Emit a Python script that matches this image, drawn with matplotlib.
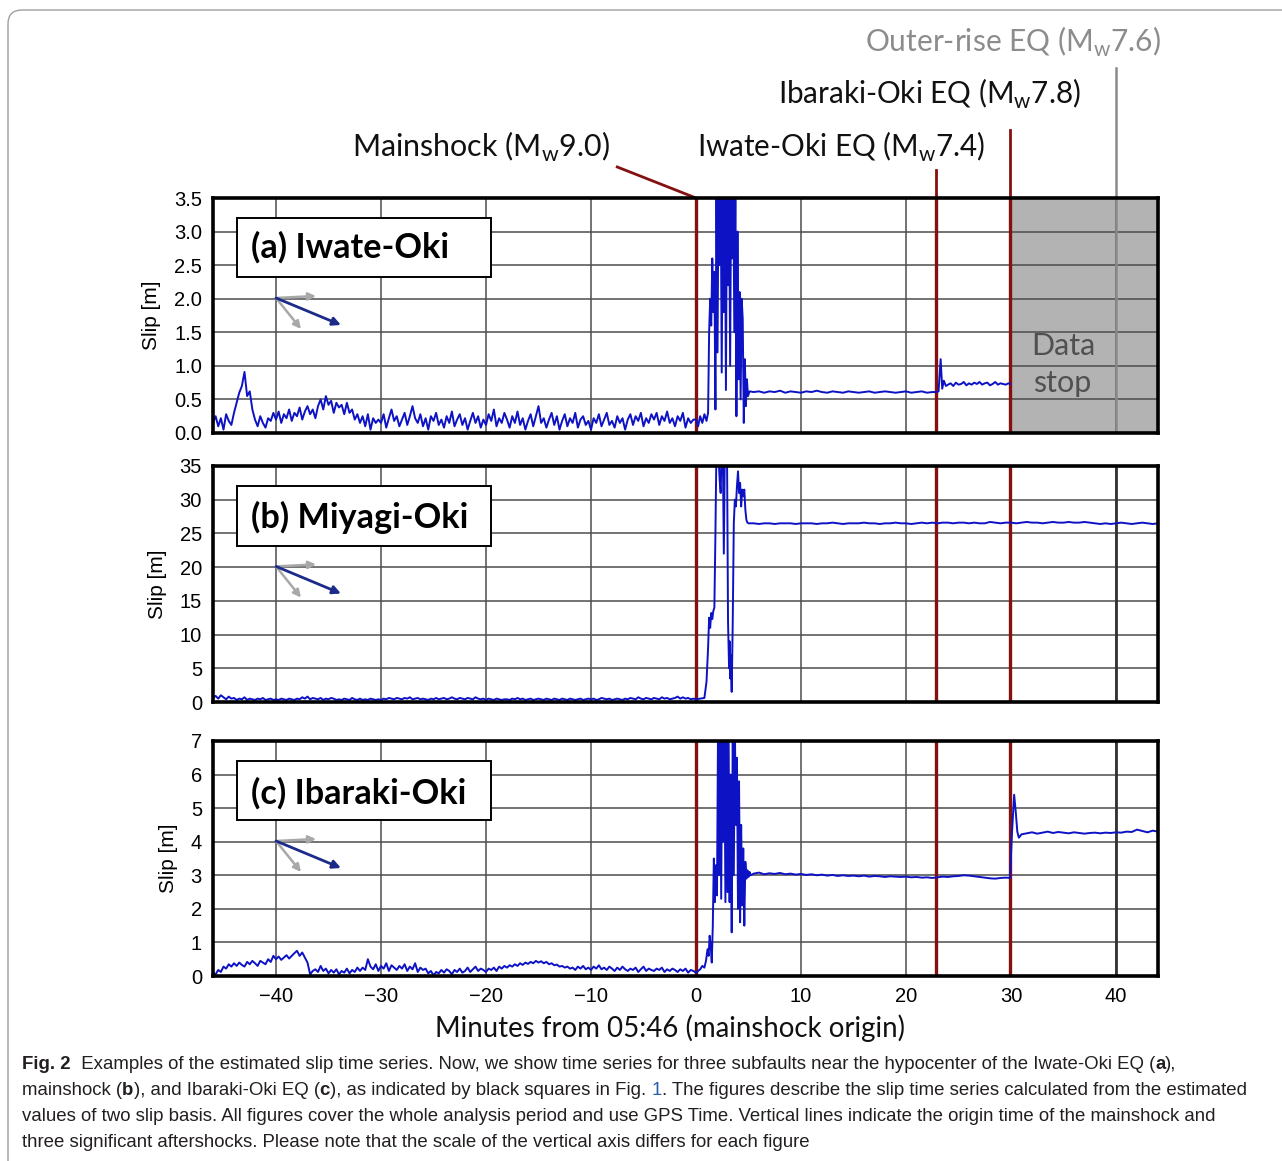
import numpy as np
import matplotlib
matplotlib.use("Agg")
import matplotlib.pyplot as plt
import matplotlib.transforms as mtransforms
from matplotlib.patches import Rectangle, FancyBboxPatch
from matplotlib.ticker import FormatStrFormatter

plt.rcParams['font.family'] = ['Liberation Sans', 'DejaVu Sans']

# ------------------------------------------------------------------ data
x_ticks = [-40, -30, -20, -10, 0, 10, 20, 30, 40]
event_labels = ["Mainshock (M$_\\mathregular{w}$9.0)", "Iwate-Oki EQ (M$_\\mathregular{w}$7.4)",
                "Ibaraki-Oki EQ (M$_\\mathregular{w}$7.8)", "Outer-rise EQ (M$_\\mathregular{w}$7.6)"]
event_times = [0.0, 22.9, 29.9, 40.0]
data_stop_time = 29.9
panel_titles = ["(a) Iwate-Oki", "(b) Miyagi-Oki", "(c) Ibaraki-Oki"]
y_ticks_a = [0.0, 0.5, 1.0, 1.5, 2.0, 2.5, 3.0, 3.5]
y_ticks_b = [0, 5, 10, 15, 20, 25, 30, 35]
y_ticks_c = [0, 1, 2, 3, 4, 5, 6, 7]

pre_start = -46.0
pre_step = 0.25

# (a) Iwate-Oki
slip_a_pre = [0.15,0.25,0.10,0.22,0.05,0.28,0.18,0.12, 0.30,0.45,0.60,0.70,0.91,0.55,0.62,0.35,
              0.20,0.10,0.25,0.15,0.08,0.22,0.18,0.30, 0.20,0.32,0.15,0.28,0.22,0.35,0.18,0.30,
              0.25,0.38,0.20,0.32,0.40,0.28,0.35,0.22, 0.40,0.50,0.35,0.55,0.42,0.48,0.30,0.45,
              0.38,0.42,0.28,0.45,0.30,0.35,0.20,0.28, 0.15,0.25,0.10,0.28,0.05,0.22,0.15,0.20,
              0.15,0.28,0.08,0.22,0.35,0.18,0.25,0.10, 0.20,0.30,0.12,0.25,0.40,0.22,0.15,0.28,
              0.10,0.22,0.05,0.25,0.18,0.30,0.12,0.20, 0.08,0.25,0.15,0.32,0.10,0.20,0.28,0.12,
              0.22,0.05,0.18,0.30,0.15,0.25,0.08,0.20, 0.12,0.28,0.18,0.35,0.10,0.22,0.15,0.30,
              0.20,0.08,0.25,0.15,0.32,0.12,0.22,0.05, 0.18,0.28,0.10,0.25,0.40,0.15,0.22,0.08,
              0.20,0.30,0.12,0.25,0.05,0.18,0.28,0.10, 0.22,0.15,0.30,0.08,0.20,0.25,0.12,0.18,
              0.05,0.22,0.15,0.28,0.10,0.20,0.30,0.12, 0.18,0.08,0.25,0.15,0.22,0.05,0.20,0.28,
              0.12,0.25,0.18,0.30,0.10,0.22,0.15,0.28, 0.20,0.30,0.12,0.25,0.18,0.32,0.15,0.22,
              0.10,0.25,0.18,0.30,0.08,0.22,0.15,0.20]
time_a_co = [0.0,0.2,0.4,0.6,0.8,1.0,1.15,1.25,1.35,1.45,1.55,1.65,1.75,1.85,1.95,2.05,2.15,2.25,
             2.35,2.45,2.55,2.65,2.75,2.85,2.95,3.05,3.15,3.25,3.35,3.45,3.55,3.65,3.75,3.85,3.95,
             4.05,4.15,4.25,4.35,4.45,4.55,4.65,4.75,4.85,4.95,5.1]
slip_a_co = [0.20,0.10,0.25,0.15,0.28,0.18,0.30,1.50,2.00,1.60,2.60,1.80,2.40,0.35,3.80,1.20,3.80,2.50,
             3.80,0.90,3.80,1.80,3.80,0.64,3.80,2.20,3.80,1.00,3.80,2.60,3.80,1.50,3.80,0.25,3.00,
             0.80,2.10,0.50,2.00,1.70,0.15,1.10,0.40,0.80,0.55,0.62]
slip_a_after = [0.61,0.62,0.60,0.62,0.61,0.63,0.60,0.62,0.61,0.60,0.62,0.61,0.63,0.61,0.60,0.62,0.61,0.60,
                0.62,0.61,0.60,0.61,0.62,0.60,0.61,0.62,0.61,0.60,0.61,0.62,0.60,0.61,0.62,0.60,0.61]
time_a_iwate = [22.9, 23.1, 23.3, 23.45, 23.6, 23.8]
slip_a_iwate = [0.61, 0.62, 1.10, 0.66, 0.78, 0.70]
slip_a_late = [0.72,0.74,0.70,0.75,0.72,0.73,0.76,0.71,0.74,0.72,0.75,0.73,0.76,0.72,0.74,0.75,
               0.71,0.73,0.76,0.72,0.74,0.73,0.72,0.74]
slip_a_end = [0.73]

# (b) Miyagi-Oki
slip_b_pre = [0.6,0.9,0.5,1.0,0.7,0.4,0.8,0.5, 0.6,0.3,0.5,0.4,0.7,0.3,0.5,0.4,
              0.3,0.5,0.4,0.6,0.3,0.4,0.5,0.3, 0.4,0.3,0.5,0.4,0.3,0.5,0.4,0.3,
              0.5,0.4,0.7,0.5,0.8,0.4,0.6,0.5, 0.4,0.6,0.3,0.5,0.4,0.6,0.5,0.3,
              0.4,0.3,0.5,0.4,0.3,0.6,0.4,0.3, 0.5,0.3,0.4,0.3,0.5,0.4,0.3,0.4,
              0.3,0.5,0.4,0.6,0.5,0.4,0.6,0.5, 0.4,0.6,0.5,0.7,0.4,0.5,0.6,0.4,
              0.5,0.4,0.3,0.5,0.4,0.6,0.4,0.5, 0.6,0.4,0.5,0.7,0.5,0.4,0.6,0.5,
              0.4,0.6,0.5,0.4,0.7,0.5,0.4,0.5, 0.3,0.5,0.4,0.3,0.5,0.4,0.3,0.4,
              0.4,0.3,0.5,0.4,0.6,0.4,0.5,0.3, 0.4,0.5,0.3,0.4,0.5,0.4,0.3,0.5,
              0.4,0.3,0.5,0.4,0.3,0.5,0.4,0.3, 0.5,0.4,0.3,0.4,0.5,0.3,0.4,0.5,
              0.4,0.5,0.3,0.4,0.6,0.5,0.4,0.5, 0.3,0.4,0.5,0.4,0.3,0.5,0.4,0.6,
              0.5,0.4,0.7,0.5,0.4,0.6,0.5,0.4, 0.6,0.5,0.4,0.7,0.5,0.6,0.4,0.5,
              0.6,0.8,0.5,0.7,0.5,0.6,0.4,0.5]
time_b_co = [0.0,0.4,0.8,1.0,1.15,1.25,1.35,1.45,1.55,1.65,1.75,1.85,1.95,2.1,2.25,2.35,2.45,2.55,
             2.65,2.75,2.85,2.95,3.05,3.15,3.2,3.25,3.3,3.4,3.5,3.6,3.7,3.8,3.9,4.0,4.1,4.2,4.3,4.4,
             4.5,4.6,4.7,4.8,4.9,5.0]
slip_b_co = [0.4,0.5,0.6,3.0,8.0,12.5,11.0,13.2,12.3,13.5,14.0,25.0,38.0,38.0,33.0,31.0,38.0,38.0,
             22.0,38.0,38.0,38.0,12.0,5.0,9.0,3.5,7.0,1.5,12.0,26.5,30.0,29.0,32.0,34.2,31.0,32.5,
             29.0,31.5,30.5,31.5,28.5,27.0,26.6,26.5]
slip_b_after = [26.5,26.4,26.5,26.5,26.4,26.5,26.5,26.5,26.4,26.5,26.5,26.5,26.4,26.5,26.5,26.6,26.5,26.4,26.5,26.5,
                26.5,26.6,26.5,26.5,26.4,26.5,26.5,26.6,26.5,26.5,26.4,26.5,26.6,26.5,26.6,26.5,26.6,26.6,26.5,26.6,
                26.6,26.5,26.6,26.5,26.5,26.7,26.6,26.5,26.6,26.6,26.5,26.6,26.7,26.6,26.6,26.5,26.6,26.7,26.6,26.6,
                26.7,26.6,26.6,26.7,26.6,26.5,26.4,26.5,26.4,26.5,26.6,26.5,26.4,26.5,26.6,26.5,26.4,26.5]

# (c) Ibaraki-Oki
slip_c_pre = [0.10,0.05,0.18,0.12,0.28,0.22,0.35,0.28, 0.38,0.30,0.40,0.33,0.28,0.42,0.35,0.45,
              0.38,0.30,0.45,0.40,0.35,0.50,0.42,0.60, 0.50,0.58,0.48,0.55,0.62,0.52,0.60,0.68,
              0.75,0.60,0.70,0.55,0.40,0.05,0.15,0.20, 0.12,0.30,0.15,0.22,0.08,0.18,0.10,0.20,
              0.05,0.15,0.10,0.22,0.08,0.18,0.12,0.25, 0.15,0.25,0.18,0.50,0.28,0.20,0.35,0.15,
              0.30,0.22,0.38,0.15,0.32,0.25,0.18,0.30, 0.22,0.35,0.15,0.28,0.20,0.38,0.12,0.25,
              0.18,0.22,0.08,0.15,0.02,0.12,0.08,0.18, 0.10,0.20,0.15,0.05,0.18,0.12,0.22,0.10,
              0.15,0.25,0.12,0.20,0.28,0.15,0.22,0.18, 0.12,0.22,0.18,0.25,0.15,0.28,0.22,0.30,
              0.25,0.32,0.28,0.35,0.30,0.38,0.33,0.40, 0.36,0.42,0.38,0.45,0.40,0.44,0.38,0.42,
              0.35,0.38,0.32,0.34,0.28,0.30,0.25,0.28, 0.22,0.25,0.18,0.28,0.22,0.30,0.20,0.25,
              0.18,0.28,0.22,0.32,0.20,0.25,0.18,0.28, 0.22,0.15,0.25,0.18,0.28,0.20,0.15,0.22,
              0.18,0.25,0.12,0.20,0.28,0.15,0.22,0.18, 0.15,0.22,0.18,0.25,0.12,0.20,0.15,0.22,
              0.18,0.12,0.20,0.15,0.22,0.10,0.18,0.15]
time_c_co = [0.0,0.2,0.4,0.6,0.8,0.95,1.1,1.2,1.3,1.4,1.5,1.6,1.7,1.8,1.9,2.0,2.1,2.2,2.3,2.4,2.5,2.6,
             2.7,2.8,2.9,3.0,3.1,3.2,3.3,3.4,3.5,3.6,3.7,3.8,3.9,4.0,4.1,4.2,4.3,4.4,4.5,4.6,4.7,4.8,
             4.9,5.0,5.1,5.2]
slip_c_co = [0.10,0.15,0.20,0.30,0.25,0.45,0.80,0.60,1.20,0.90,0.40,1.50,3.50,2.20,3.30,2.40,7.50,3.00,
             7.50,2.30,7.50,4.00,7.50,2.20,7.50,2.50,7.50,2.20,6.00,1.30,7.50,3.00,7.50,4.50,6.50,2.00,
             5.80,1.60,4.50,2.10,3.80,1.50,3.40,2.90,3.15,2.95,3.10,3.00]
slip_c_after = [3.05,3.08,3.03,3.06,3.04,3.07,3.03,3.05,3.02,
                3.04,3.01,3.03,3.00,3.02,2.99,3.01,2.98,3.00,2.98,
                2.99,2.97,2.99,2.96,2.98,2.97,2.95,2.97,2.96,2.95,
                2.96,2.94,2.95,2.93,2.94,2.92,2.94,2.96,2.95,2.97,
                2.98,3.00,2.99,2.97,2.95,2.93,2.91,2.90,2.92,2.93]
time_c_jump = [29.9, 30.1, 30.3, 30.45, 30.6, 30.75, 31.0]
slip_c_jump = [2.92, 4.30, 5.40, 4.90, 4.30, 4.12, 4.22]
slip_c_late = [4.25,4.28,4.24,4.27,4.30,4.26,4.29,4.27,4.25,4.28,4.26,4.24,4.26,4.27,4.25,4.27,
               4.26,4.28,4.27,4.30,4.29,4.36,4.32,4.28,4.33,4.30]

# ------------------------------------------------------------------ series
t_pre = pre_start + pre_step * np.arange(len(slip_a_pre))
a_t = np.concatenate([t_pre, time_a_co, np.arange(5.5, 23.0, 0.5), time_a_iwate,
                      np.arange(24.0, 29.8, 0.25), [data_stop_time]])
a_s = np.concatenate([slip_a_pre, slip_a_co, slip_a_after, slip_a_iwate, slip_a_late, slip_a_end])
b_t = np.concatenate([t_pre, time_b_co, np.arange(5.5, 44.01, 0.5)])
b_s = np.concatenate([slip_b_pre, slip_b_co, slip_b_after])
c_t = np.concatenate([t_pre, time_c_co, np.arange(5.5, 29.75, 0.5), time_c_jump,
                      np.arange(31.5, 44.01, 0.5)])
c_s = np.concatenate([slip_c_pre, slip_c_co, slip_c_after, slip_c_jump, slip_c_late])

# ------------------------------------------------------------------ figure
W, H = 1282, 1161
fig = plt.figure(figsize=(W / 100, H / 100), dpi=100)
renderer = fig.canvas.get_renderer()

RED = '#84100f'
BLUE = '#0d12c4'
NAVY = '#1c2a8a'
LBL_FONT = ['Lato', 'DejaVu Sans']


def px_axes(x0, y0, x1, y1):
    return fig.add_axes([x0 / W, 1 - y1 / H, (x1 - x0) / W, (y1 - y0) / H])


def fit(text, target_w):
    w = text.get_window_extent(renderer).width
    text.set_fontsize(text.get_fontsize() * target_w / w)


ax_a = px_axes(213, 198, 1158, 433)
ax_b = px_axes(213, 466, 1158, 702)
ax_c = px_axes(213, 741, 1158, 976)
axes = [ax_a, ax_b, ax_c]
series = [(a_t, a_s), (b_t, b_s), (c_t, c_s)]
yticks = [y_ticks_a, y_ticks_b, y_ticks_c]
title_widths = [198, 217, 215]
title_base = [0.745, 0.737, 0.732]

for i, ax in enumerate(axes):
    t, s = series[i]
    ax.set_xlim(-46, 44)
    ax.set_ylim(yticks[i][0], yticks[i][-1])
    ax.set_xticks(x_ticks)
    ax.set_yticks(yticks[i])
    if i == 0:
        ax.yaxis.set_major_formatter(FormatStrFormatter('%.1f'))
    ax.grid(True, color='#4d4d4d', lw=1.1)
    ax.set_axisbelow(True)
    for sp in ax.spines.values():
        sp.set_linewidth(2.6)
        sp.set_color('black')
        sp.set_zorder(6)
    ax.tick_params(length=0, labelsize=14.5, pad=8)
    if i < 2:
        ax.tick_params(labelbottom=False)
    ax.set_ylabel('Slip [m]', fontsize=15, labelpad=9)

    if i == 0:
        ax.axvspan(data_stop_time, 44, color='#b3b3b3', zorder=0.2, lw=0)
        ax.text(35.0, 1.16, 'Data', family=LBL_FONT, fontsize=22, color='#505050',
                ha='center', va='baseline', zorder=3)
        ax.text(34.9, 0.61, 'stop', family=LBL_FONT, fontsize=22, color='#505050',
                ha='center', va='baseline', zorder=3)

    for et in event_times[:3]:
        ax.axvline(et, color=RED, lw=2.4, zorder=2)
    if i == 0:
        ax.axvline(event_times[3], color='#8a8a8a', lw=1.8, zorder=2)
    else:
        ax.axvline(event_times[3], color='#333333', lw=2.0, zorder=2)

    ax.plot(t, s, color=BLUE, lw=1.4, zorder=3)

    # label box
    ax.add_patch(Rectangle((0.0254, 0.662), 0.2688, 0.252, transform=ax.transAxes,
                           fc='white', ec='black', lw=1.4, zorder=4))
    tt = ax.text(0.0402, title_base[i], panel_titles[i], transform=ax.transAxes,
                 family=LBL_FONT, fontweight='bold', fontsize=22, ha='left', va='baseline',
                 zorder=5)
    fit(tt, title_widths[i])

    # slip basis arrows
    st = (0.0667, 0.5745)
    for end in [(0.109, 0.583), (0.0931, 0.4426)]:
        ax.annotate('', xy=end, xytext=st, xycoords='axes fraction', textcoords='axes fraction',
                    arrowprops=dict(arrowstyle='-|>', color='#a8a8a8', lw=1.8,
                                    mutation_scale=11, shrinkA=0, shrinkB=0), zorder=4)
    ax.annotate('', xy=(0.1354, 0.4596), xytext=st, xycoords='axes fraction',
                textcoords='axes fraction',
                arrowprops=dict(arrowstyle='-|>', color=NAVY, lw=2.0, mutation_scale=12,
                                shrinkA=0, shrinkB=0), zorder=4)

for ax in axes:
    for lbl in ax.get_xticklabels() + ax.get_yticklabels():
        lbl.set_family(['Liberation Sans', 'DejaVu Sans'])

# ---- event labels above panel (a)
blend = mtransforms.blended_transform_factory(ax_a.transData, ax_a.transAxes)
ax_a.plot([-7.5, event_times[0]], [1.132, 1.0], transform=blend, clip_on=False, color=RED, lw=2.0)
ax_a.plot([event_times[1]] * 2, [1.0, 1.119], transform=blend, clip_on=False, color=RED, lw=2.0)
ax_a.plot([event_times[2]] * 2, [1.0, 1.289], transform=blend, clip_on=False, color=RED, lw=2.0)
ax_a.plot([event_times[3]] * 2, [1.0, 1.553], transform=blend, clip_on=False, color='#8a8a8a', lw=1.8)

lab_pos = [(352, 157, 257, '#111111'), (697, 157, 288, '#111111'),
           (778, 104, 302, '#111111'), (865, 52, 295, '#8c8c8c')]
for (x0, yb, wt, col), lab in zip(lab_pos, event_labels):
    tx = fig.text(x0 / W, 1 - yb / H, lab, family=LBL_FONT, fontsize=22, color=col,
                  ha='left', va='baseline')
    fit(tx, wt)

xl = fig.text(435 / W, 1 - 1037 / H, 'Minutes from 05:46 (mainshock origin)', family=LBL_FONT,
              fontsize=22, color='#111111', ha='left', va='baseline')
fit(xl, 468)

# ---- caption
CAP_FONT = ['Liberation Sans Narrow', 'Liberation Sans', 'DejaVu Sans']
CAP_COL = '#231f20'
caption = [
    [("Fig. 2", 'bold', CAP_COL),
     ("  Examples of the estimated slip time series. Now, we show time series for three subfaults near the hypocenter of the Iwate-Oki EQ (", 'normal', CAP_COL),
     ("a", 'bold', CAP_COL), ("),", 'normal', CAP_COL)],
    [("mainshock (", 'normal', CAP_COL), ("b", 'bold', CAP_COL),
     ("), and Ibaraki-Oki EQ (", 'normal', CAP_COL), ("c", 'bold', CAP_COL),
     ("), as indicated by black squares in Fig. ", 'normal', CAP_COL), ("1", 'normal', '#2a5db0'),
     (". The figures describe the slip time series calculated from the estimated", 'normal', CAP_COL)],
    [("values of two slip basis. All figures cover the whole analysis period and use GPS Time. Vertical lines indicate the origin time of the mainshock and", 'normal', CAP_COL)],
    [("three significant aftershocks. Please note that the scale of the vertical axis differs for each figure", 'normal', CAP_COL)],
]
cap_base = [1069, 1095, 1121, 1147]
cap_target = [1223, 1235, 1218, 804]


def run_w(s, size, weight):
    t1 = fig.text(0, 0, s + '|', fontsize=size, fontweight=weight, family=CAP_FONT)
    t2 = fig.text(0, 0, '|', fontsize=size, fontweight=weight, family=CAP_FONT)
    w = t1.get_window_extent(renderer).width - t2.get_window_extent(renderer).width
    t1.remove()
    t2.remove()
    return w


base_size = 12.0
ratios = []
for runs, tw in zip(caption, cap_target):
    wl = sum(run_w(s, base_size, wgt) for s, wgt, c in runs)
    ratios.append(tw / wl)
cap_size = base_size * min(ratios)
for runs, yb in zip(caption, cap_base):
    x = 22
    for s, wgt, col in runs:
        fig.text(x / W, 1 - yb / H, s, fontsize=cap_size, fontweight=wgt, color=col,
                 family=CAP_FONT, ha='left', va='baseline')
        x += run_w(s, cap_size, wgt)

# ---- outer rounded frame
frame = FancyBboxPatch((8, -20), 1300, H - 10 + 20, boxstyle='round,pad=0,rounding_size=14',
                       transform=mtransforms.IdentityTransform(), fc='none', ec='#a0a0a0', lw=1.0)
fig.add_artist(frame)

fig.savefig('out.png', dpi=100)
